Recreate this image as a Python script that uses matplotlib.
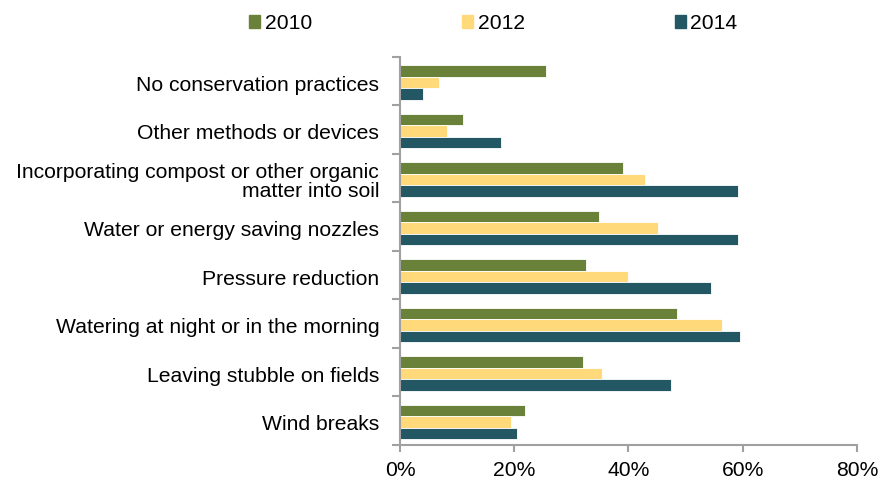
from matplotlib import pyplot as plt
from matplotlib.patches import Patch
import numpy as np

categories = ['No conservation practices', 'Other methods or devices',
              'Incorporating compost or other organic\nmatter into soil',
              'Water or energy saving nozzles', 'Pressure reduction',
              'Watering at night or in the morning', 'Leaving stubble on fields',
              'Wind breaks']
years = ['2010', '2012', '2014']
v2010 = [25.6, 11.1, 39.1, 34.9, 32.6, 48.5, 32.1, 21.8]
v2012 = [6.9, 8.3, 42.9, 45.2, 40.0, 56.4, 35.4, 19.5]
v2014 = [4.1, 17.6, 59.2, 59.2, 54.5, 59.6, 47.5, 20.4]
xticks = [0, 20, 40, 60, 80]
colors = ['#6a813a', '#ffd97a', '#235764']

plt.rcParams['font.family'] = ['Liberation Sans', 'DejaVu Sans']
fig = plt.figure(figsize=(8.95, 4.83), dpi=100)
ax = fig.add_axes([0.4469, 0.0793, 0.5106, 0.8033])

y = np.arange(len(categories))
h = 0.238
for k, (vals, c) in enumerate(zip([v2010, v2012, v2014], colors)):
    ax.barh(y + (k - 1) * h + 0.03, vals, height=h, color=c, edgecolor='white', linewidth=0.6)

ax.set_ylim(len(categories) - 0.5, -0.5)
ax.set_xlim(0, 80)
ax.set_yticks(y + 0.05)
ax.set_yticklabels(categories, fontsize=15.2, ha='right', linespacing=1.0)
ax.set_yticks(np.arange(-0.5, len(categories)), minor=True)
ax.tick_params(axis='y', which='major', length=0, pad=15)
ax.tick_params(axis='y', which='minor', length=6, width=1.5, color='#a0a0a0')
ax.set_xticks(xticks)
ax.set_xticklabels([f'{t}%' for t in xticks], fontsize=15.2)
ax.tick_params(axis='x', length=5, width=1.5, color='#a0a0a0', pad=7)
for s in ['top', 'right']:
    ax.spines[s].set_visible(False)
for s in ['left', 'bottom']:
    ax.spines[s].set_color('#a0a0a0')
    ax.spines[s].set_linewidth(1.5)

handles = [Patch(color=c) for c in colors]
fig.legend(handles, years, loc='center', bbox_to_anchor=(0.551, 0.952), ncol=3,
           frameon=False, fontsize=15.2, handlelength=0.55, handleheight=0.55,
           handletextpad=0.2, columnspacing=7.1)

plt.savefig('out.png')
